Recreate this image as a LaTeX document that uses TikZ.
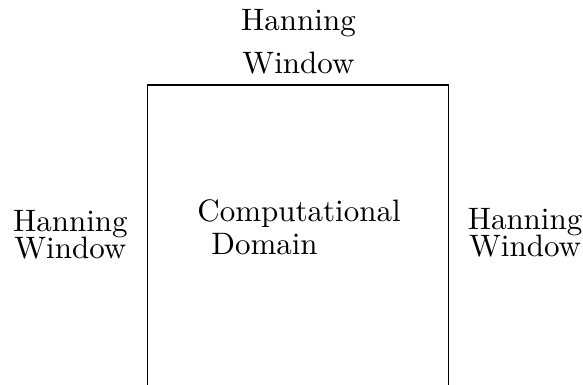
\documentclass[tikz,border=0pt]{standalone}
\begin{document}
\begin{tikzpicture}[x=1pt, y=1pt, lbl/.style={align=center, inner sep=0pt, anchor=north}]
	\useasboundingbox (0, 0) rectangle (188.1, -124.2);
	\coordinate (bl) at (47.7, -124.2);
	\coordinate (tl) at (47.7, -27.4);
	\coordinate (tr) at (144.8, -27.4);
	\coordinate (br) at (144.8, -124.2);
	\draw (bl) -- (tl) -- (tr) -- (br);
	\node[lbl] at (96.3, -2.9) (toplabel) {Hanning\\[1.9pt] Window};
	\node[lbl] at (22.7, -67.7) (leftlabel) {Hanning\\[-3.3pt] Window};
	\node[lbl] at (169.4, -67.1) (rightlabel) {Hanning\\[-3.3pt] Window};
	\node[lbl, align=left, anchor=north west] at (63.5, -64.2) (domain) {Computational\\[-1.4pt] \hspace{4.5pt}Domain};
\end{tikzpicture}
\end{document}
